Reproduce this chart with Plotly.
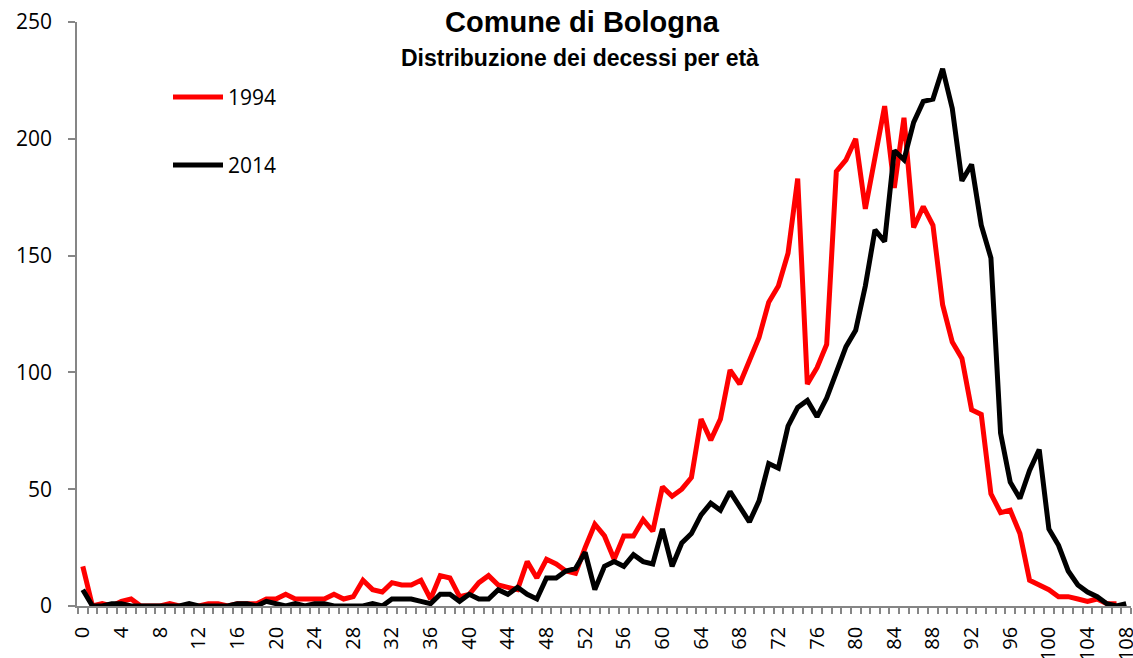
import plotly.graph_objects as go

ages = list(range(0, 109))
tick_ages = list(range(0, 109, 4))
tick_labels = [str(a) for a in tick_ages]

name_1994 = "1994"
name_2014 = "2014"

deaths_1994 = [
    17, 0, 1, 0, 2, 3, 0, 0, 0, 1,
    0, 0, 0, 1, 1, 0, 1, 1, 1, 3,
    3, 5, 3, 3, 3, 3, 5, 3, 4, 11,
    7, 6, 10, 9, 9, 11, 3, 13, 12, 4,
    5, 10, 13, 9, 8, 7, 19, 12, 20, 18,
    15, 14, 25, 35, 30, 20, 30, 30, 37, 32,
    51, 47, 50, 55, 80, 71, 80, 101, 95, 105,
    115, 130, 137, 151, 183, 95, 102, 112, 186, 191,
    200, 170, 192, 214, 179, 209, 162, 171, 163, 129,
    113, 106, 84, 82, 48, 40, 41, 31, 11, 9,
    7, 4, 4, 3, 2, 3, 1, 1, None,
]

deaths_2014 = [
    7, 0, 0, 1, 1, 0, 0, 0, 0, 0,
    0, 1, 0, 0, 0, 0, 1, 1, 0, 2,
    1, 0, 1, 0, 1, 1, 0, 0, 0, 0,
    1, 0, 3, 3, 3, 2, 1, 5, 5, 2,
    5, 3, 3, 7, 5, 8, 5, 3, 12, 12,
    15, 16, 23, 7, 17, 19, 17, 22, 19, 18,
    33, 17, 27, 31, 39, 44, 41, 49, 42, 36,
    45, 61, 59, 77, 85, 88, 81, 89, 100, 111,
    118, 137, 161, 156, 195, 191, 207, 216, 217, 230,
    213, 182, 189, 163, 149, 74, 53, 46, 58, 67,
    33, 26, 15, 9, 6, 4, 1, 0, 1,
]

RED = "#FF0000"
BLACK = "#000000"
GREY = "#868686"
TICK_FONT = dict(family="Open Sans", size=21, color="#000000")
XTICK_FONT = dict(family="Open Sans", size=20, color="#000000")

W, H = 1133, 658
L, R, T, B = 77, 2, 22, 52
PW, PH = W - L - R, H - T - B


def px_x(x):
    return (x - L) / PW


def px_y(y):
    return 1 - (y - T) / PH


fig = go.Figure()
fig.add_trace(go.Scatter(x=ages, y=deaths_1994, mode="lines", name=name_1994,
                         line=dict(color=RED, width=5), showlegend=False))
fig.add_trace(go.Scatter(x=ages, y=deaths_2014, mode="lines", name=name_2014,
                         line=dict(color=BLACK, width=5), showlegend=False))

# legend drawn as line samples + text
legend_items = [(name_1994, RED, 97), (name_2014, BLACK, 165)]
for name, color, ypix in legend_items:
    yp = px_y(ypix)
    fig.add_shape(type="line", xref="paper", yref="paper",
                  x0=px_x(173), x1=px_x(223), y0=yp, y1=yp,
                  line=dict(color=color, width=5))
    fig.add_annotation(text=name, xref="paper", yref="paper",
                       x=px_x(226), y=yp, xanchor="left", yanchor="middle",
                       showarrow=False, font=TICK_FONT)

fig.add_annotation(text="<b>Comune di Bologna</b>", xref="paper", yref="paper",
                   x=px_x(582), y=px_y(22), xanchor="center", yanchor="middle",
                   showarrow=False, font=dict(family="Liberation Sans", size=29, color="#000000"))
fig.add_annotation(text="<b>Distribuzione dei decessi per età</b>", xref="paper", yref="paper",
                   x=px_x(580), y=px_y(58), xanchor="center", yanchor="middle",
                   showarrow=False, font=dict(family="Liberation Sans", size=23, color="#000000"))

fig.update_layout(
    width=W, height=H, autosize=False,
    margin=dict(l=L, r=R, t=T, b=B, pad=0, autoexpand=False),
    plot_bgcolor="white", paper_bgcolor="white",
    showlegend=False,
)
fig.update_xaxes(
    range=[-0.6, 108.5], tickmode="array", tickvals=tick_ages, ticktext=tick_labels,
    tickangle=-90, ticks="", tickfont=XTICK_FONT, ticklabelstandoff=11,
    ticklabeloverflow="allow",
    showline=True, linecolor=GREY, linewidth=1.5, showgrid=False, zeroline=False,
    minor=dict(ticks="outside", ticklen=6, tick0=-0.5, dtick=1, tickcolor=GREY, tickwidth=1.5, showgrid=False),
    layer="below traces", automargin=False,
)
fig.update_yaxes(
    range=[0, 250], tickmode="linear", tick0=0, dtick=50,
    ticks="outside", ticklen=7, tickcolor=GREY, tickwidth=1.5,
    tickfont=TICK_FONT, ticklabelstandoff=12,
    showline=True, linecolor=GREY, linewidth=1.5, showgrid=False, zeroline=False,
    layer="below traces", automargin=False,
)

fig.write_html(
    "out.html",
    config={"displayModeBar": False},
    post_script="document.body.style.margin='0';document.body.style.overflow='hidden';",
)
